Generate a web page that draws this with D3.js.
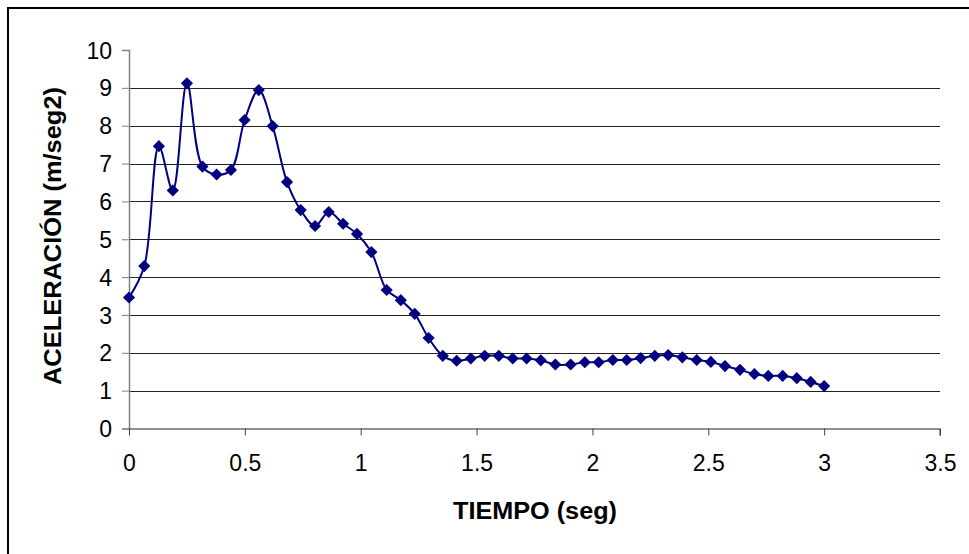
<!DOCTYPE html>
<html>
<head>
<meta charset="utf-8">
<script src="https://cdn.jsdelivr.net/npm/d3@7"></script>
<style>
  body { margin: 0; background: #fff; }
  text { font-family: Arial, "Liberation Sans", sans-serif; fill: #000; }
</style>
</head>
<body>
<script>
// tiempo (seg) y aceleracion (m/seg2)
var tiempo = [0, 0.066, 0.129, 0.189, 0.25, 0.317, 0.378, 0.44, 0.499, 0.56,
              0.62, 0.682, 0.741, 0.803, 0.862, 0.924, 0.984, 1.046, 1.112, 1.173,
              1.233, 1.293, 1.354, 1.414, 1.475, 1.535, 1.596, 1.656, 1.716, 1.777,
              1.84, 1.906, 1.967, 2.027, 2.088, 2.148, 2.208, 2.269, 2.327, 2.388,
              2.45, 2.511, 2.572, 2.637, 2.699, 2.759, 2.821, 2.882, 2.942, 3.0];
var aceleracion = [3.46, 4.29, 7.46, 6.29, 9.12, 6.92, 6.71, 6.83, 8.15, 8.94,
                   7.99, 6.51, 5.77, 5.35, 5.72, 5.41, 5.14, 4.66, 3.66, 3.39,
                   3.03, 2.39, 1.92, 1.79, 1.85, 1.92, 1.92, 1.85, 1.85, 1.80,
                   1.69, 1.69, 1.75, 1.75, 1.81, 1.81, 1.86, 1.92, 1.94, 1.88,
                   1.81, 1.76, 1.65, 1.55, 1.44, 1.39, 1.39, 1.33, 1.23, 1.12];
var ticksX = [0, 0.5, 1, 1.5, 2, 2.5, 3, 3.5];
var ticksY = [0, 1, 2, 3, 4, 5, 6, 7, 8, 9, 10];

var svgW = 969, svgH = 554;
var x0 = 129, x1 = 940, y0 = 428.5, y1 = 50;

var datos = tiempo.map(function(t, i) { return {t: t, a: aceleracion[i]}; });

var svg = d3.select("body").append("svg")
            .attr("width", svgW)
            .attr("height", svgH);

svg.append("rect").attr("width", svgW).attr("height", svgH).attr("fill", "#fff");

// marco del grafico (sale de la imagen por la derecha y abajo)
svg.append("rect")
   .attr("x", 8).attr("y", 8)
   .attr("width", svgW + 10).attr("height", svgH + 10)
   .attr("fill", "none").attr("stroke", "#000").attr("stroke-width", 2);

var xScale = d3.scaleLinear().domain([0, 3.5]).range([x0, x1]);
var yScale = d3.scaleLinear().domain([0, 10]).range([y0, y1]);

// lineas de division
svg.append("g")
   .selectAll("line")
   .data(ticksY.filter(function(d) { return d > 0 && d < 10; }))
   .enter()
   .append("line")
   .attr("x1", x0).attr("x2", x1)
   .attr("y1", function(d) { return Math.round(yScale(d)) + 0.5; })
   .attr("y2", function(d) { return Math.round(yScale(d)) + 0.5; })
   .attr("stroke", "#222")
   .attr("stroke-width", 1);

var yAxis = d3.axisLeft(yScale).tickValues(ticksY).tickSize(7).tickPadding(10).tickFormat(d3.format("d"));
var gy = svg.append("g")
   .attr("transform", "translate(" + x0 + ",0)")
   .call(yAxis);
gy.select(".domain").attr("stroke", "#808080").attr("stroke-width", 1.5);
gy.selectAll(".tick line").attr("stroke", "#808080");
gy.selectAll("text").style("font-size", "23px").attr("dy", "0.35em");

var xAxis = d3.axisBottom(xScale).tickValues(ticksX).tickSize(7).tickPadding(19).tickFormat(function(d) { return d; });
var gx = svg.append("g")
   .attr("transform", "translate(0," + y0 + ")")
   .call(xAxis);
gx.select(".domain").attr("stroke", "#222").attr("d", "M" + x0 + ",0.5H" + x1 + "V7");
gx.selectAll(".tick line").attr("stroke", "#444");
gx.selectAll("text").style("font-size", "23px");

// serie suavizada
var linea = d3.line()
   .x(function(d) { return xScale(d.t); })
   .y(function(d) { return yScale(d.a); })
   .curve(d3.curveCatmullRom.alpha(0.5));

svg.append("path")
   .datum(datos)
   .attr("d", linea)
   .attr("fill", "none")
   .attr("stroke", "#000080")
   .attr("stroke-width", 2);

var diamante = d3.symbol().type(d3.symbolSquare).size(74);
svg.append("g")
   .selectAll("path")
   .data(datos)
   .enter()
   .append("path")
   .attr("d", diamante)
   .attr("transform", function(d) { return "translate(" + xScale(d.t) + "," + yScale(d.a) + ") rotate(45)"; })
   .attr("fill", "#000080");

// titulos de los ejes
svg.append("text")
   .attr("x", 453).attr("y", 519)
   .attr("textLength", 164).attr("lengthAdjust", "spacingAndGlyphs")
   .style("font-size", "23px").style("font-weight", "bold")
   .text("TIEMPO (seg)");

svg.append("text")
   .attr("transform", "translate(61,385) rotate(-90)")
   .attr("textLength", 298).attr("lengthAdjust", "spacingAndGlyphs")
   .style("font-size", "23px").style("font-weight", "bold")
   .text("ACELERACIÓN (m/seg2)");
</script>
</body>
</html>
